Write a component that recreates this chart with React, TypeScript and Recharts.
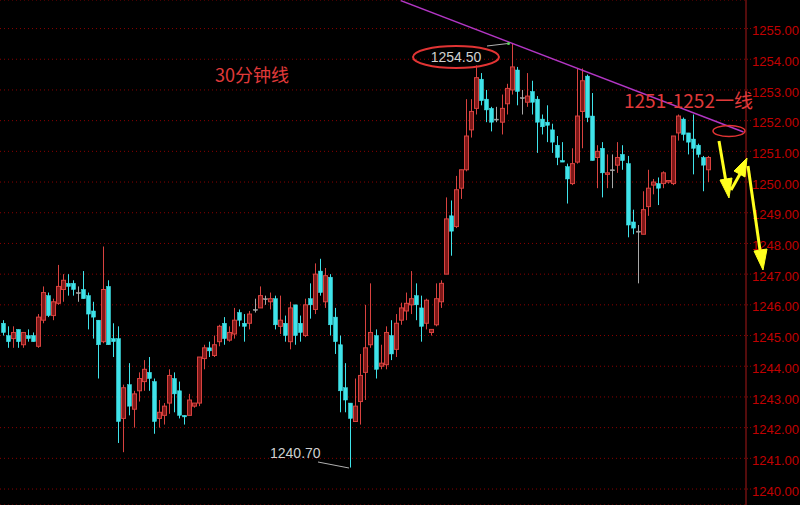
import { ComposedChart, Bar, XAxis, YAxis, CartesianGrid, ReferenceLine } from 'recharts';

// 30-minute candles left to right
const opens = [
  1245.4, 1245.0, 1244.9, 1245.2, 1244.7, 1245.0, 1245.0, 1244.65, 1245.5, 1246.3,
  1245.65, 1246.05, 1246.5, 1246.7, 1246.7, 1246.4, 1246.5, 1246.3, 1245.8, 1245.5,
  1244.8, 1246.6, 1244.9, 1244.9, 1242.3, 1243.4, 1242.6, 1243.2, 1243.5, 1243.8,
  1243.5, 1242.3, 1242.4, 1242.8, 1243.6, 1243.2, 1242.4, 1242.4, 1242.7, 1242.8,
  1244.25, 1244.6, 1244.35, 1244.8, 1245.4, 1244.85, 1245.05, 1245.75, 1245.4, 1245.4,
  1245.85, 1245.9, 1246.2, 1246.1, 1246.2, 1245.3, 1245.4, 1244.8, 1246.0, 1245.4,
  1245.0, 1246.2, 1245.85, 1247.1, 1246.1, 1246.9, 1245.6, 1244.7, 1243.3, 1242.8,
  1242.2, 1242.85, 1243.8, 1244.7, 1245.0, 1244.0, 1244.05, 1245.0, 1244.55, 1245.5,
  1245.8, 1246.0, 1246.3, 1245.9, 1245.4, 1245.1, 1245.35, 1246.1, 1247.0, 1248.9,
  1248.55, 1249.8, 1250.4, 1251.7, 1252.4, 1253.35, 1252.7, 1252.4, 1252.05, 1251.95,
  1252.55, 1253.0, 1253.65, 1252.75, 1252.6, 1252.95, 1252.7, 1252.05, 1251.95, 1251.7,
  1251.2, 1250.7, 1250.5, 1249.95, 1250.65, 1252.3, 1253.45, 1252.15, 1250.8, 1251.1,
  1250.25, 1250.4, 1250.55, 1250.9, 1250.6, 1248.7, 1248.4, 1248.3, 1249.2, 1249.9,
  1249.95, 1249.95, 1250.0, 1249.95, 1251.6, 1252.05, 1251.6, 1251.4, 1251.2, 1250.8,
  1250.4,
];
const highs = [
  1245.5, 1245.3, 1245.3, 1245.2, 1245.1, 1245.2, 1245.1, 1245.7, 1246.6, 1246.4,
  1246.2, 1247.3, 1247.0, 1247.0, 1246.8, 1246.6, 1247.1, 1246.4, 1246.1, 1245.5,
  1247.9, 1246.8, 1245.4, 1245.3, 1243.4, 1244.1, 1243.2, 1243.8, 1244.2, 1244.3,
  1243.6, 1242.9, 1242.8, 1243.9, 1243.8, 1243.5, 1242.4, 1243.1, 1242.8, 1244.3,
  1244.7, 1244.8, 1245.0, 1245.35, 1245.6, 1245.3, 1245.9, 1245.85, 1245.7, 1245.8,
  1246.2, 1246.6, 1246.3, 1246.4, 1246.3, 1246.3, 1245.65, 1246.1, 1246.0, 1245.65,
  1246.2, 1246.7, 1247.35, 1247.5, 1247.2, 1247.0, 1245.9, 1245.0, 1244.1, 1242.8,
  1243.6, 1244.4, 1246.0, 1246.7, 1245.2, 1244.7, 1245.3, 1245.5, 1245.7, 1246.07,
  1246.4, 1247.1, 1246.7, 1246.3, 1246.2, 1245.2, 1246.7, 1246.8, 1249.5, 1249.4,
  1250.2, 1250.4, 1252.7, 1252.7, 1253.8, 1253.55, 1253.0, 1252.45, 1252.45, 1252.85,
  1253.2, 1254.5, 1253.75, 1253.0, 1253.55, 1253.3, 1252.8, 1252.2, 1252.5, 1251.9,
  1251.5, 1251.3, 1250.6, 1251.1, 1253.7, 1253.7, 1253.5, 1252.9, 1251.2, 1251.3,
  1250.9, 1250.9, 1251.3, 1251.2, 1250.85, 1249.1, 1248.6, 1249.7, 1250.4, 1250.1,
  1250.15, 1250.35, 1250.05, 1251.5, 1252.2, 1252.1, 1251.6, 1252.2, 1251.25, 1250.85,
  1250.85,
];
const lows = [
  1245.0, 1244.6, 1244.6, 1244.6, 1244.6, 1244.8, 1244.8, 1244.6, 1245.4, 1245.6,
  1245.5, 1246.0, 1246.1, 1246.3, 1246.3, 1246.1, 1246.2, 1245.2, 1244.9, 1243.6,
  1244.75, 1244.7, 1244.3, 1241.5, 1241.2, 1242.4, 1242.0, 1242.85, 1243.2, 1243.2,
  1241.8, 1242.0, 1242.1, 1242.45, 1242.5, 1242.3, 1242.1, 1242.4, 1242.65, 1242.7,
  1243.9, 1244.3, 1244.3, 1244.65, 1244.7, 1244.8, 1244.9, 1245.3, 1244.8, 1245.2,
  1245.75, 1245.9, 1246.0, 1245.85, 1245.2, 1245.05, 1244.8, 1244.55, 1244.7, 1244.8,
  1244.95, 1245.55, 1245.7, 1246.3, 1245.9, 1245.0, 1244.4, 1242.5, 1242.5, 1240.7,
  1242.2, 1242.1, 1242.9, 1244.6, 1243.6, 1243.9, 1243.9, 1244.2, 1244.3, 1245.35,
  1245.5, 1245.7, 1245.5, 1244.8, 1245.2, 1245.0, 1245.3, 1245.9, 1247.0, 1247.6,
  1248.5, 1249.45, 1250.35, 1251.45, 1252.2, 1252.5, 1251.95, 1251.65, 1251.95, 1251.55,
  1252.2, 1252.85, 1252.5, 1252.2, 1252.45, 1252.2, 1250.95, 1251.55, 1251.3, 1250.95,
  1250.55, 1250.65, 1249.3, 1249.9, 1250.6, 1251.1, 1251.95, 1250.7, 1249.8, 1249.5,
  1249.8, 1249.8, 1250.3, 1250.4, 1248.2, 1248.3, 1246.7, 1248.3, 1248.9, 1249.6,
  1249.25, 1249.8, 1249.95, 1249.9, 1251.35, 1251.35, 1250.9, 1250.25, 1250.8, 1249.7,
  1250.0,
];
const closes = [
  1245.1, 1244.8, 1245.1, 1244.8, 1245.1, 1244.9, 1244.8, 1245.6, 1246.4, 1245.65,
  1246.1, 1246.6, 1246.8, 1246.6, 1246.5, 1246.4, 1246.2, 1245.7, 1245.6, 1244.7,
  1246.5, 1244.7, 1244.8, 1242.2, 1243.3, 1242.7, 1243.1, 1243.6, 1243.9, 1243.6,
  1242.2, 1242.5, 1242.7, 1243.7, 1243.1, 1242.4, 1242.35, 1242.9, 1242.8, 1244.3,
  1244.6, 1244.5, 1244.7, 1245.3, 1244.9, 1245.1, 1245.5, 1245.5, 1245.3, 1245.7,
  1245.85, 1246.3, 1246.2, 1246.2, 1245.35, 1245.5, 1245.0, 1245.9, 1245.0, 1245.1,
  1246.0, 1246.0, 1247.0, 1246.4, 1246.95, 1245.35, 1244.8, 1243.2, 1242.9, 1242.3,
  1242.7, 1243.7, 1244.6, 1245.1, 1243.9, 1244.1, 1245.1, 1244.4, 1245.4, 1245.9,
  1246.05, 1246.2, 1246.0, 1245.3, 1246.15, 1245.2, 1246.2, 1246.7, 1248.8, 1248.4,
  1249.75, 1250.4, 1251.5, 1252.3, 1253.4, 1252.65, 1252.35, 1251.95, 1252.05, 1252.4,
  1253.05, 1253.75, 1252.95, 1252.75, 1252.8, 1252.6, 1251.95, 1251.8, 1251.85, 1251.3,
  1250.8, 1250.65, 1250.1, 1250.6, 1252.15, 1253.3, 1252.1, 1250.7, 1251.0, 1250.3,
  1250.3, 1250.4, 1250.8, 1250.7, 1248.6, 1248.5, 1248.4, 1249.1, 1249.8, 1250.0,
  1249.8, 1250.3, 1250.05, 1251.5, 1252.15, 1251.55, 1251.3, 1251.1, 1250.9, 1250.55,
  1250.8,
];

const priceTicks = [
  1240, 1241, 1242, 1243, 1244, 1245, 1246, 1247, 1248, 1249, 1250, 1251, 1252, 1253, 1254, 1255,
];
const emptySlots = 7; // blank space before the price axis

const data = Array.from({ length: opens.length + emptySlots }, (_, i) =>
  i < opens.length
    ? { i, open: opens[i], high: highs[i], low: lows[i], close: closes[i] }
    : { i, open: null, high: null, low: null, close: null }
);

const UP = '#d8423f';
const UP_FILL = '#7e1818';
const DOWN = '#3fe3ea';
const FLAT = '#a8a8a8';

const Candle = (props: any) => {
  const { x, y, width, height, payload } = props;
  if (payload == null || payload.high == null) return null;
  const { open, close, high, low } = payload;
  const top = Math.min(y, y + height);
  const h = Math.abs(height);
  const range = high - low;
  const py = (v: number) => (range > 0 ? top + ((high - v) / range) * h : top);
  const cx = Math.round(x + width / 2) + 0.5;
  const color = close > open ? UP : close < open ? DOWN : FLAT;
  const bTop = py(Math.max(open, close));
  const bBot = py(Math.min(open, close));
  const bh = Math.max(1, bBot - bTop);
  return (
    <g>
      <line x1={cx} x2={cx} y1={top} y2={top + h} stroke={color} strokeWidth={1} />
      {close > open ? (
        <rect x={cx - 2} y={bTop} width={4} height={bh} fill={UP_FILL} stroke={UP} strokeWidth={1} />
      ) : (
        <rect x={cx - 2} y={bTop} width={4} height={bh} fill={color} stroke={color} strokeWidth={0.5} />
      )}
    </g>
  );
};

export default function App() {
  return (
    <div style={{ position: 'fixed', left: 0, top: 0, width: 800, height: 505, background: '#000' }}>
      <ComposedChart width={800} height={505} data={data} margin={{ top: 0, right: 0, left: 0, bottom: 0 }}>
        <CartesianGrid vertical={false} stroke="#8a0000" strokeDasharray="1 3" />
        <XAxis dataKey="i" hide />
        <YAxis
          orientation="right"
          domain={[1239.48, 1255.93]}
          ticks={priceTicks}
          allowDataOverflow
          width={54}
          axisLine={{ stroke: '#a81818' }}
          tickLine={{ stroke: '#8a0000', strokeDasharray: '1 2' }}
          tickSize={5}
          tickMargin={1}
          tick={{ fill: '#c00000', fontSize: 13, fontFamily: 'Liberation Sans, Arial', dy: 2 }}
          tickFormatter={(v) => v.toFixed(2)}
        />
        <Bar
          dataKey={(d: any) => (d.high == null ? null : [d.low, d.high])}
          shape={<Candle />}
          isAnimationActive={false}
        />
        <ReferenceLine
          segment={[{ x: 79, y: 1255.91 }, { x: 147, y: 1251.63 }]}
          stroke="#b236c4"
          strokeWidth={1.5}
          ifOverflow="visible"
        />
      </ComposedChart>
      <svg width={800} height={505} style={{ position: 'absolute', left: 0, top: 0, pointerEvents: 'none' }}>
        <text x={215} y={74} fill="#e03a3a" fontSize={18} fontFamily="Noto Sans CJK SC" dominantBaseline="central">
          30分钟线
        </text>
        <text x={624} y={99} fill="#e03a3a" fontSize={19} fontFamily="Noto Sans CJK SC" dominantBaseline="central">
          1251-1252一线
        </text>
        <ellipse cx={456} cy={57} rx={43} ry={11} fill="none" stroke="#e23434" strokeWidth={2} />
        <text x={456} y={57} fill="#d0d0d0" fontSize={14} fontFamily="Liberation Sans, Arial" textAnchor="middle" dominantBaseline="central">
          1254.50
        </text>
        <line x1={487} y1={46} x2={508} y2={43.5} stroke="#b0b0b0" strokeWidth={1} />
        <circle cx={508.5} cy={43.5} r={1.5} fill="#5ad25a" />
        <text x={270} y={453} fill="#d0d0d0" fontSize={14} fontFamily="Liberation Sans, Arial" dominantBaseline="central">
          1240.70
        </text>
        <line x1={318} y1={462} x2={349} y2={468} stroke="#b0b0b0" strokeWidth={1} />
        <ellipse cx={729} cy={131} rx={16} ry={5.5} fill="none" stroke="#e23434" strokeWidth={1.5} />
        <g fill="#ffff1e" stroke="#ffff1e" strokeLinejoin="round">
          <line x1={719} y1={141} x2={726} y2={182} strokeWidth={3} />
          <polygon points="729,198 732,178 720,180" />
          <line x1={731} y1={190} x2={740} y2={174} strokeWidth={3} />
          <polygon points="747,158 745,177 734,171" />
          <line x1={748} y1={166} x2={760} y2={250} strokeWidth={3} />
          <polygon points="763,270 767,249 754,251" />
        </g>
      </svg>
    </div>
  );
}
